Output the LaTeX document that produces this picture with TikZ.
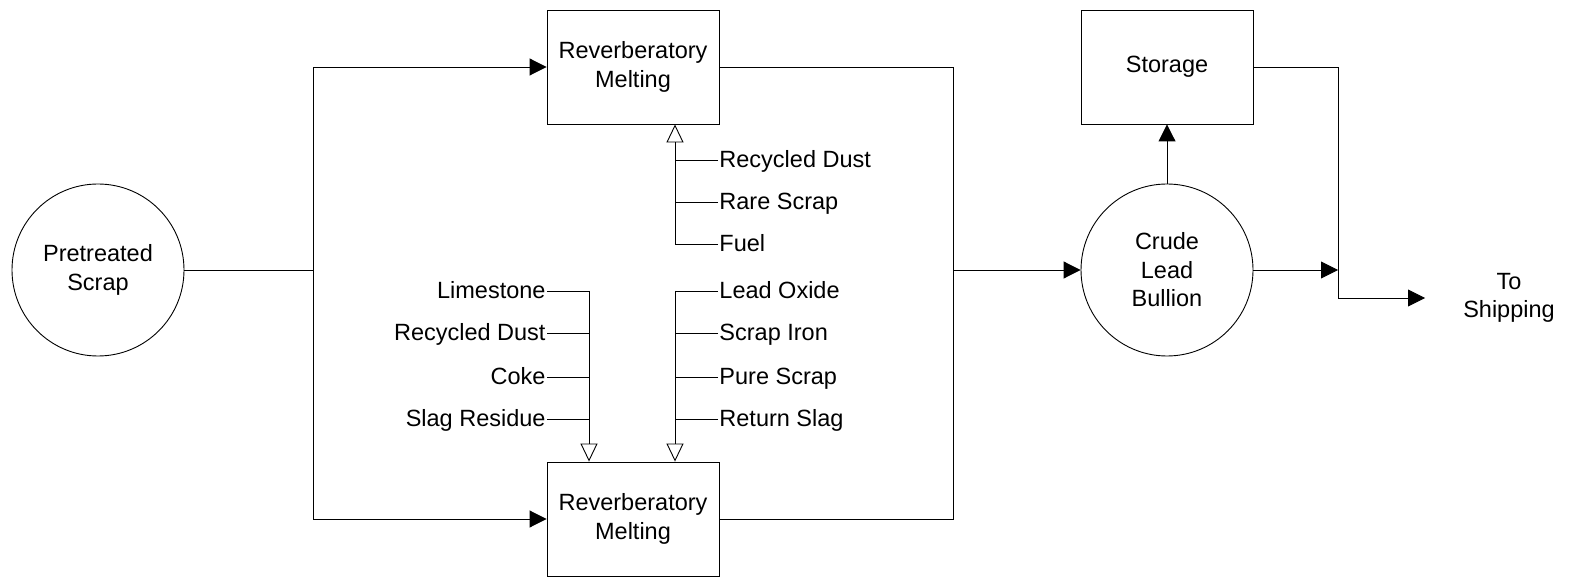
\documentclass[tikz,border=0pt]{standalone}
\usepackage{fontspec}
\setmainfont{Liberation Sans}
\usetikzlibrary{arrows.meta}
\begin{document}
\begin{tikzpicture}[x=1pt,y=-1pt,line width=0.9pt,
  every node/.style={font=\fontsize{23.5}{28.5}\selectfont},
  procbox/.style={draw,rectangle,minimum width=172pt,minimum height=114pt,align=center,inner sep=0pt},
  blob/.style={draw,circle,minimum size=172pt,align=center,inner sep=0pt},
  lbl/.style={inner sep=1pt,text height=18pt,text depth=3pt},
  arr/.style={-{Triangle[length=17pt,width=17pt]}},
  oarr/.style={-{Triangle[open,length=18pt,width=17pt,fill=white]}}]
\useasboundingbox (0,0) rectangle (1569,577);

\node[blob] (ps) at (98,270) {Pretreated\\Scrap};
\node[procbox] (rm1) at (633,67) {Reverberatory\\Melting};
\node[procbox] (rm2) at (633,519) {Reverberatory\\Melting};
\node[blob] (cl) at (1167,270) {Crude\\Lead\\Bullion};
\node[procbox] (st) at (1167,67) {Storage};
\node[align=center] (ship) at (1509,298) {To\\Shipping};

\coordinate (j1) at (313,270);
\coordinate (j2) at (953,270);
\coordinate (j3) at (1338,270);
\coordinate (j4) at (1338,298);
\coordinate (se) at (1425,298);

\draw (ps.east) -- (j1);
\draw[arr] (j1) |- (rm1.west);
\draw[arr] (j1) |- (rm2.west);
\draw (rm1.east) -| (j2);
\draw (rm2.east) -| (j2);
\draw[arr] (j2) -- (cl.west);
\draw[arr] (cl.north) -- (st.south);
\draw[arr] (cl.east) -- (j3);
\draw (st.east) -| (j4);
\draw[arr] (j4) -- (se);

% inputs to upper furnace
\node[lbl,anchor=west] (u1) at (718,160) {Recycled Dust};
\node[lbl,anchor=west] (u2) at (718,202) {Rare Scrap};
\node[lbl,anchor=west] (u3) at (718,244) {Fuel};
\coordinate (ua) at (675,244);
\draw (u3.west) -- (ua);
\draw[oarr] (ua) -- (ua |- rm1.south);
\draw (u1.west) -- (u1.west -| ua);
\draw (u2.west) -- (u2.west -| ua);

% left inputs to lower furnace
\node[lbl,anchor=east] (l1) at (547,291) {Limestone};
\node[lbl,anchor=east] (l2) at (547,333) {Recycled Dust};
\node[lbl,anchor=east] (l3) at (547,377) {Coke};
\node[lbl,anchor=east] (l4) at (547,419) {Slag Residue};
\coordinate (la) at (589,291);
\draw (l1.east) -- (la);
\draw[oarr] (la) -- (la |- rm2.north);
\draw (l2.east) -- (l2.east -| la);
\draw (l3.east) -- (l3.east -| la);
\draw (l4.east) -- (l4.east -| la);

% right inputs to lower furnace
\node[lbl,anchor=west] (r1) at (718,291) {Lead Oxide};
\node[lbl,anchor=west] (r2) at (718,333) {Scrap Iron};
\node[lbl,anchor=west] (r3) at (718,377) {Pure Scrap};
\node[lbl,anchor=west] (r4) at (718,419) {Return Slag};
\coordinate (ra) at (675,291);
\draw (r1.west) -- (ra);
\draw[oarr] (ra) -- (ra |- rm2.north);
\draw (r2.west) -- (r2.west -| ra);
\draw (r3.west) -- (r3.west -| ra);
\draw (r4.west) -- (r4.west -| ra);
\end{tikzpicture}
\end{document}
